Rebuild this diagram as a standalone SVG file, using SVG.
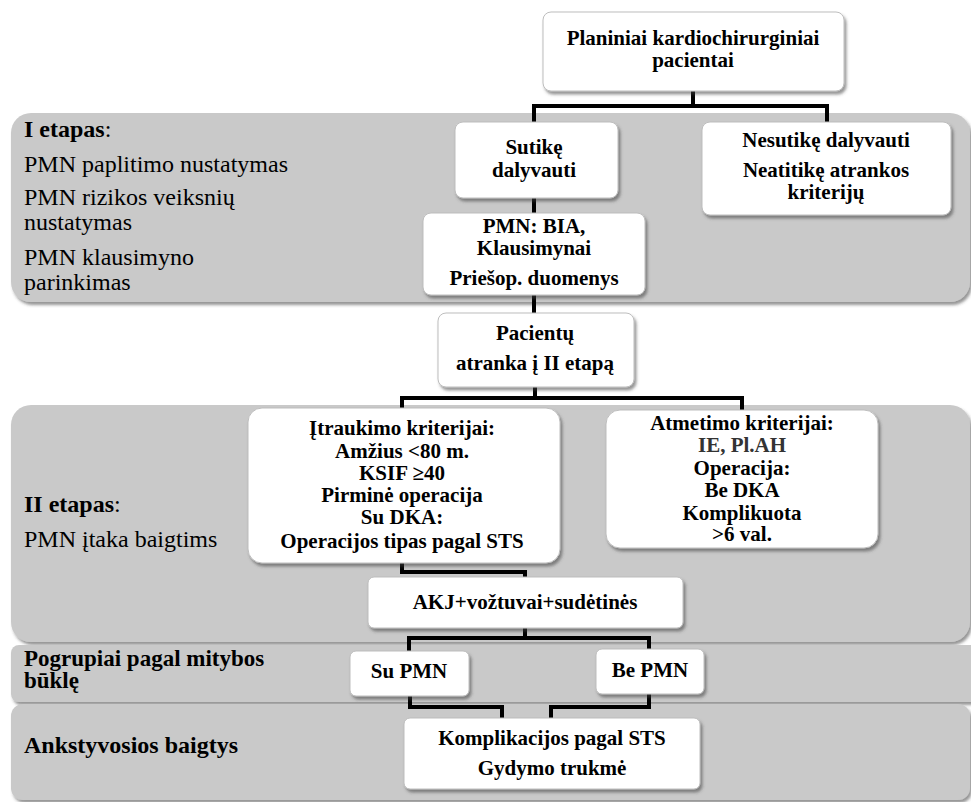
<svg xmlns="http://www.w3.org/2000/svg" width="971" height="802" viewBox="0 0 971 802">
<defs>
<filter id="sh" x="-10%" y="-10%" width="120%" height="130%">
<feDropShadow dx="2" dy="3" stdDeviation="1.5" flood-color="#404040" flood-opacity="0.55"/>
</filter>
<style>
.band{fill:#c9c9c9;filter:url(#sh);}
.box{fill:#ffffff;stroke:#bdbdbd;stroke-width:1;filter:url(#sh);}
.t{font-family:"Liberation Serif","Times New Roman",serif;font-weight:bold;font-size:21px;fill:#000;text-anchor:middle;}
.lab{font-family:"Liberation Serif","Times New Roman",serif;font-size:24px;fill:#000;}
.b{font-weight:bold;}
.con{fill:none;stroke:#000;stroke-width:4;stroke-linejoin:miter;stroke-linecap:butt;}
</style>
</defs>
<rect width="971" height="802" fill="#ffffff"/>

<g id="band-1">
<rect class="band" x="11" y="113" width="959" height="189" rx="20"/>
<text class="lab" x="24" y="137"><tspan class="b">I etapas</tspan>:</text>
<text class="lab" x="24" y="172">PMN paplitimo nustatymas</text>
<text class="lab" x="24" y="205">PMN rizikos veiksnių</text>
<text class="lab" x="24" y="230">nustatymas</text>
<text class="lab" x="24" y="265">PMN klausimyno</text>
<text class="lab" x="24" y="290">parinkimas</text>
</g>
<g id="band-2">
<rect class="band" x="11" y="405" width="959" height="237" rx="20"/>
<text class="lab" x="24" y="512"><tspan class="b">II etapas</tspan>:</text>
<text class="lab" x="24" y="547">PMN įtaka baigtims</text>
</g>
<g id="band-3">
<rect class="band" x="11" y="645" width="970" height="57" rx="8"/>
<text class="lab b" x="24" y="666" style="font-size:23px">Pogrupiai pagal mitybos</text>
<text class="lab b" x="24" y="688" style="font-size:23px">būklę</text>
</g>
<g id="band-4">
<rect class="band" x="11" y="704" width="959" height="96" rx="12"/>
<text class="lab b" x="24" y="753">Ankstyvosios baigtys</text>
</g>

<g id="connectors">
<path class="con" d="M693,91 V106 M534,122 V106 H827 V122"/>
<path class="con" d="M534,198 V213"/>
<path class="con" d="M534,295 V313"/>
<path class="con" d="M535,387 V398 M402,408 V398 H742 V410"/>
<path class="con" d="M402,563 V572 H525 V577"/>
<path class="con" d="M525,628 V638 M409,651 V638 H649 V649"/>
<path class="con" d="M410,696 V707 H502 V718"/>
<path class="con" d="M649,694 V707 H551 V718"/>
</g>

<g id="n-top">
<rect class="box" x="543" y="12" width="301" height="79" rx="8"/>
<text class="t" x="693" y="45">Planiniai kardiochirurginiai</text>
<text class="t" x="693" y="67">pacientai</text>
</g>
<g id="n-sutike">
<rect class="box" x="455" y="122" width="163" height="76" rx="8"/>
<text class="t" x="534" y="154">Sutikę</text>
<text class="t" x="534" y="177">dalyvauti</text>
</g>
<g id="n-nesutike">
<rect class="box" x="702" y="122" width="249" height="93" rx="8"/>
<text class="t" x="826" y="147">Nesutikę dalyvauti</text>
<text class="t" x="826" y="177">Neatitikę atrankos</text>
<text class="t" x="826" y="199">kriterijų</text>
</g>
<g id="n-pmn">
<rect class="box" x="423" y="213" width="222" height="82" rx="8"/>
<text class="t" x="534" y="233">PMN: BIA,</text>
<text class="t" x="534" y="255">Klausimynai</text>
<text class="t" x="534" y="285">Priešop. duomenys</text>
</g>
<g id="n-pacientu">
<rect class="box" x="438" y="313" width="196" height="74" rx="8"/>
<text class="t" x="535" y="340">Pacientų</text>
<text class="t" x="535" y="370">atranka į II etapą</text>
</g>
<g id="n-itraukimo">
<rect class="box" x="248" y="408" width="312" height="155" rx="14"/>
<text class="t" x="402" y="435">Įtraukimo kriterijai:</text>
<text class="t" x="402" y="458">Amžius &lt;80 m.</text>
<text class="t" x="402" y="480">KSIF ≥40</text>
<text class="t" x="402" y="502">Pirminė operacija</text>
<text class="t" x="402" y="524">Su DKA:</text>
<text class="t" x="402" y="548">Operacijos tipas pagal STS</text>
</g>
<g id="n-atmetimo">
<rect class="box" x="606" y="410" width="272" height="138" rx="14"/>
<text class="t" x="742" y="430">Atmetimo kriterijai:</text>
<text class="t" x="742" y="452" style="fill:#333">IE, Pl.AH</text>
<text class="t" x="742" y="475">Operacija:</text>
<text class="t" x="742" y="497">Be DKA</text>
<text class="t" x="742" y="520">Komplikuota</text>
<text class="t" x="742" y="541">&gt;6 val.</text>
</g>
<g id="n-akj">
<rect class="box" x="368" y="577" width="315" height="51" rx="6"/>
<text class="t" x="525" y="609">AKJ+vožtuvai+sudėtinės</text>
</g>
<g id="n-supmn">
<rect class="box" x="350" y="651" width="119" height="45" rx="6"/>
<text class="t" x="409" y="678">Su PMN</text>
</g>
<g id="n-bepmn">
<rect class="box" x="596" y="649" width="108" height="45" rx="6"/>
<text class="t" x="650" y="677">Be PMN</text>
</g>
<g id="n-komplikacijos">
<rect class="box" x="404" y="718" width="296" height="71" rx="6"/>
<text class="t" x="552" y="745">Komplikacijos pagal STS</text>
<text class="t" x="552" y="775">Gydymo trukmė</text>
</g>
</svg>
